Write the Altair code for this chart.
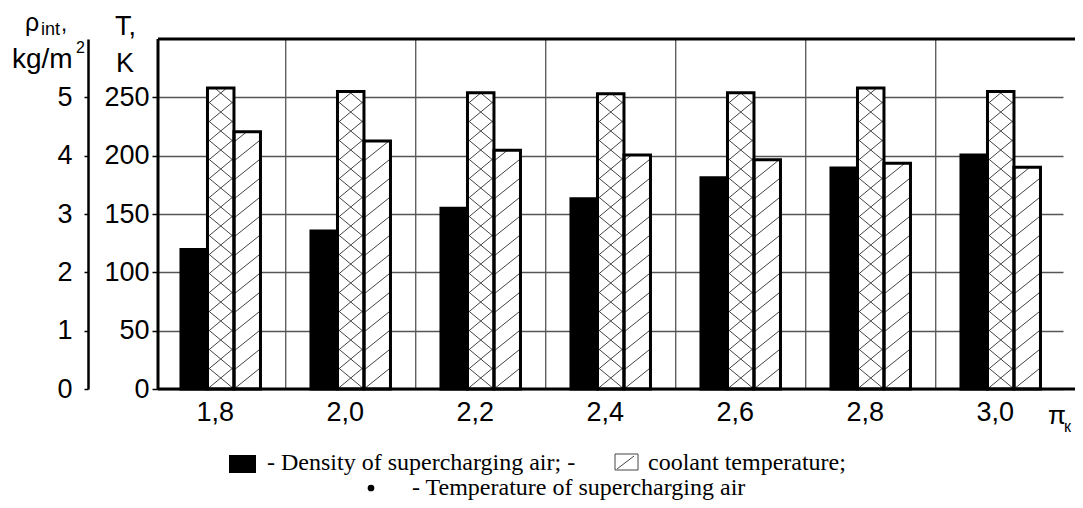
import math
import altair as alt
import pandas as pd

# ---------------- data ----------------
pi_k = [1.8, 2.0, 2.2, 2.4, 2.6, 2.8, 3.0]
density = [2.39, 2.71, 3.10, 3.26, 3.62, 3.79, 4.01]          # rho_int
air_temp = [258, 255, 254, 253, 254, 258, 255]                # K (cross-hatched)
coolant_temp = [220.5, 212.6, 204.6, 200.6, 196.6, 193.5, 190.0]  # K (diagonal hatch)
rho_ticks = [0, 1, 2, 3, 4, 5]
t_ticks = [0, 50, 100, 150, 200, 250]
grid_x = [1.9, 2.1, 2.3, 2.5, 2.7, 2.9]

# ---------------- layout constants ----------------
W, H = 905, 350
PX_PER_X = 650.0
X0 = 1.7035
X1 = X0 + W / PX_PER_X
T_MAX = 300
RHO_MAX = 6
PX_PER_T = H / T_MAX
BW = 26.5 / PX_PER_X
SANS = "Liberation Sans"
SERIF = "Liberation Serif"

xscale = alt.Scale(domain=[X0, X1], nice=False, zero=False)
tscale = alt.Scale(domain=[0, T_MAX], nice=False)
rscale = alt.Scale(domain=[0, RHO_MAX], nice=False)


def bar_df(values, slot):
    return pd.DataFrame({
        "pi": pi_k,
        "v": values,
        "base": [0] * len(values),
        "x0": [p + (slot - 1.5) * BW for p in pi_k],
        "x1": [p + (slot - 0.5) * BW for p in pi_k],
    })


dens_df = bar_df(density, 0)
air_df = bar_df(air_temp, 1)
cool_df = bar_df(coolant_temp, 2)
temp_df = pd.concat([air_df, cool_df], ignore_index=True)


def hatch_rows(df, slope, step, mirror):
    rows = []
    for x0, x1, v in zip(df["x0"], df["x1"], df["v"]):
        L = (x0 - X0) * PX_PER_X
        R = (x1 - X0) * PX_PER_X
        h = v * PX_PER_T
        w = R - L
        k = math.floor(-slope * w / step)
        while True:
            c = k * step
            if c >= h:
                break
            xs = max(0.0, -c / slope)
            xe = min(w, (h - c) / slope)
            if xe > xs:
                ys = slope * xs + c
                ye = slope * xe + c
                if mirror:
                    xs, xe = w - xs, w - xe
                rows.append({
                    "xa": X0 + (L + xs) / PX_PER_X,
                    "xb": X0 + (L + xe) / PX_PER_X,
                    "ya": ys / PX_PER_T,
                    "yb": ye / PX_PER_T,
                })
            k += 1
    return rows


hatch_df = pd.DataFrame(
    hatch_rows(air_df, 0.83, 19, False)
    + hatch_rows(air_df, 0.83, 19, True)
    + hatch_rows(cool_df, 0.8, 19, False)
)

one = pd.DataFrame({"a": [0]})

x_axis = alt.Axis(
    values=pi_k, labelExpr="replace(format(datum.value, '.1f'), '.', ',')",
    title=None, grid=False, domain=False, ticks=False,
    labelFont=SANS, labelFontSize=27, labelColor="black",
    labelPadding=10, labelOffset=-6, labelFlush=False,
)
t_axis = alt.Axis(
    values=t_ticks, title=None, orient="left", grid=True, gridColor="#555",
    gridWidth=1.3, domain=False, ticks=True, tickSize=6, tickColor="black",
    tickWidth=1.5, labelFont=SANS, labelFontSize=27, labelColor="black",
    labelPadding=3, labelFlush=False,
)
r_axis = alt.Axis(
    values=rho_ticks, title=None, orient="left", offset=70, grid=False,
    domain=True, domainColor="black", domainWidth=2.5, ticks=True, tickSize=4,
    tickColor="black", tickWidth=1.5, labelFont=SANS, labelFontSize=27,
    labelColor="black", labelPadding=12, labelFlush=False,
    labelExpr="format(datum.value, 'd')",
)

vgrid = alt.Chart(pd.DataFrame({"g": grid_x})).mark_rule(
    color="#555", strokeWidth=1.3
).encode(x=alt.X("g:Q", scale=xscale, axis=x_axis), y=alt.value(0), y2=alt.value(H))

tbars_fill = alt.Chart(temp_df).mark_rect(fill="white").encode(
    x=alt.X("x0:Q", scale=xscale, axis=x_axis), x2="x1:Q",
    y=alt.Y("v:Q", scale=tscale, axis=t_axis), y2="base:Q",
)

hatch = alt.Chart(hatch_df).mark_rule(color="#444", strokeWidth=1).encode(
    x=alt.X("xa:Q", scale=xscale, axis=x_axis), x2="xb:Q",
    y=alt.Y("ya:Q", scale=tscale, axis=t_axis), y2="yb:Q",
)

tbars_outline = alt.Chart(temp_df).mark_rect(
    fill="white", fillOpacity=0, stroke="black", strokeWidth=3
).encode(
    x=alt.X("x0:Q", scale=xscale, axis=x_axis), x2="x1:Q",
    y=alt.Y("v:Q", scale=tscale, axis=t_axis), y2="base:Q",
)


def rule_px(x, x2, y, y2, width=3, color="black"):
    return alt.Chart(one).mark_rule(color=color, strokeWidth=width).encode(
        x=alt.value(x), x2=alt.value(x2), y=alt.value(y), y2=alt.value(y2)
    )


frame_top = rule_px(0, W + 12, 0, 0)
frame_bottom = rule_px(0, W + 12, H, H)
frame_left = rule_px(0, 0, 0, H)


def text_px(s, x, y, size, font=SANS):
    return alt.Chart(one).mark_text(
        align="left", baseline="alphabetic", font=font, fontSize=size, color="black"
    ).encode(x=alt.value(x), y=alt.value(y), text=alt.value(s))


texts = [
    text_px("ρ", -133, -8, 25),
    text_px("int", -117, -4, 18),
    text_px(",", -97, -8, 22),
    text_px("kg/m", -146, 29, 28),
    text_px("2", -82, 14, 16),
    text_px("T,", -43, -4, 27),
    text_px("K", -42, 33, 27),
    text_px("π", 890, 385, 26),
    text_px("к", 906, 393, 16),
    text_px("- Density of supercharging air; -", 109, 431, 24, SERIF),
    text_px("coolant temperature;", 490, 431, 24, SERIF),
    text_px("- Temperature of supercharging air", 254, 456, 24, SERIF),
]

leg_black = alt.Chart(one).mark_rect(fill="black").encode(
    x=alt.value(71), x2=alt.value(98), y=alt.value(416), y2=alt.value(434)
)
leg_hatch_box = alt.Chart(one).mark_rect(
    fill="white", stroke="#444", strokeWidth=1
).encode(x=alt.value(457), x2=alt.value(480), y=alt.value(415), y2=alt.value(431))
leg_hatch_line = rule_px(459, 476, 430, 417, width=1, color="#444")
leg_dot = alt.Chart(one).mark_circle(color="black", size=45, opacity=1).encode(
    x=alt.value(213), y=alt.value(449)
)

dens_bars = alt.Chart(dens_df).mark_rect(
    fill="black", stroke="black", strokeWidth=3
).encode(
    x=alt.X("x0:Q", scale=xscale, axis=x_axis), x2="x1:Q",
    y=alt.Y("v:Q", scale=rscale, axis=r_axis), y2="base:Q",
)

temp_layer = alt.layer(
    vgrid, tbars_fill, hatch, tbars_outline,
    frame_top, frame_bottom, frame_left,
    leg_black, leg_hatch_box, leg_hatch_line, leg_dot,
    *texts,
)

chart = alt.layer(temp_layer, dens_bars).resolve_scale(
    y="independent"
).properties(
    width=W, height=H,
    padding={"left": 150, "top": 31, "right": 12, "bottom": 111},
    autosize=alt.AutoSizeParams(type="none"),
    background="white",
).configure_view(stroke=None)

chart.save("out.html", embed_options={"renderer": "svg", "actions": False})
